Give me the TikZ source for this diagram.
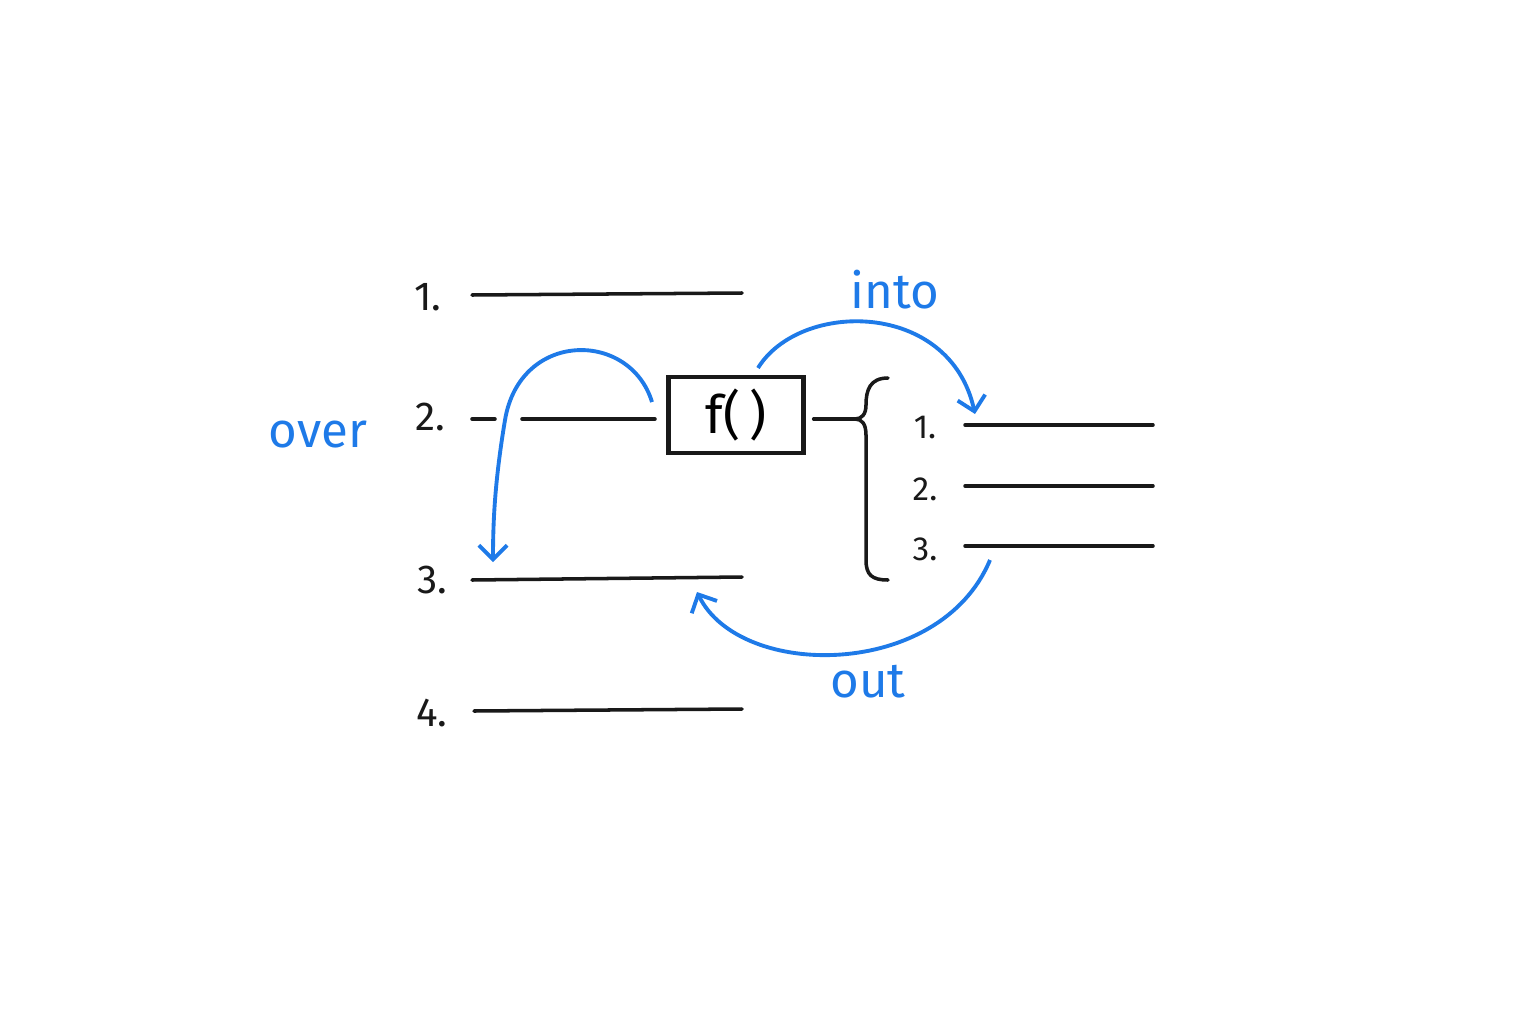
\documentclass[tikz,border=0pt]{standalone}
\usepackage{fontspec}
\setmainfont{Fira Sans}
\usetikzlibrary{positioning, calc, decorations.pathreplacing, arrows.meta}
\definecolor{stepblue}{RGB}{30, 122, 232}
\definecolor{inkblack}{RGB}{25, 25, 25}
\begin{document}
\begin{tikzpicture}[x=0.01cm, y=-0.01cm,
    slot/.style={line width=1pt, draw=inkblack, line cap=round},
    num/.style={font=\fontsize{11.5}{14}\selectfont, text=inkblack},
    small/.style={font=\fontsize{9.5}{12}\selectfont, text=inkblack},
    move/.style={line width=1.1pt, draw=stepblue, -{Straight Barb[length=4pt, width=8pt]}},
    word/.style={font=\fontsize{14}{17}\selectfont, text=stepblue}]
        \useasboundingbox (0,0) rectangle (1536,1024);
        % Outer lines
        \node[num] (n1) at (428,297) {1.};
        \draw[slot] (472,295) -- (742,293);
        \node[num] (n2) at (430,417) {2.};
        \draw[slot] (472,419) -- (495,419);
        \draw[slot] (522,419) coordinate (l2a) -- (655,419) coordinate (l2b);
        \node[num] (n3) at (432,580) {3.};
        \draw[slot] (472,580) coordinate (l3a) -- (742,577) coordinate (l3b);
        \node[num] (n4) at (432,713) {4.};
        \draw[slot] (474,711) -- (742,709);
        % Function box
        \node[draw=inkblack, line width=1.2pt, minimum width=1.35cm, minimum height=0.69cm,
              font=\fontsize{15}{18}\selectfont] (fn) at (736,415) {f(\,)};
        \coordinate (cusp) at (855,419);
        \draw[slot] (fn.east) ++(8,4) -- (cusp);
        \draw[slot] (888,378) .. controls (870,378) and (866,390) .. (866,405)
            .. controls (866,414) and (862,419) .. (cusp)
            .. controls (862,419) and (866,424) .. (866,435)
            -- (866,560) .. controls (866,575) and (872,580) .. (888,580);
        % Inner lines
        \foreach \i/\y in {1/425, 2/486, 3/546} {
            \node[small] (m\i) at (925,\y+3) {\i.};
            \draw[slot] (965,\y) coordinate (r\i a) -- (1153,\y) coordinate (r\i b);
        }
        % Moves
        \coordinate (overs) at (652,402);
        \coordinate (overe) at (493,562);
        \coordinate (intos) at (758,368);
        \coordinate (intoe) at (975,414);
        \coordinate (outs) at (990,560);
        \coordinate (oute) at (697,592);
        \draw[move] (overs) .. controls (630,330) and (520,330) .. (505,420)
            .. controls (495,480) and (493,520) .. (overe);
        \draw[move] (intos) .. controls (800,300) and (950,300) .. (intoe);
        \draw[move] (outs) .. controls (940,680) and (740,680) .. (oute);
        \node[word] (over) at (318,435) {over};
        \node[word] (into) at (895,290) {into};
        \node[word] (out) at (868,682) {out};
    \end{tikzpicture}
\end{document}
